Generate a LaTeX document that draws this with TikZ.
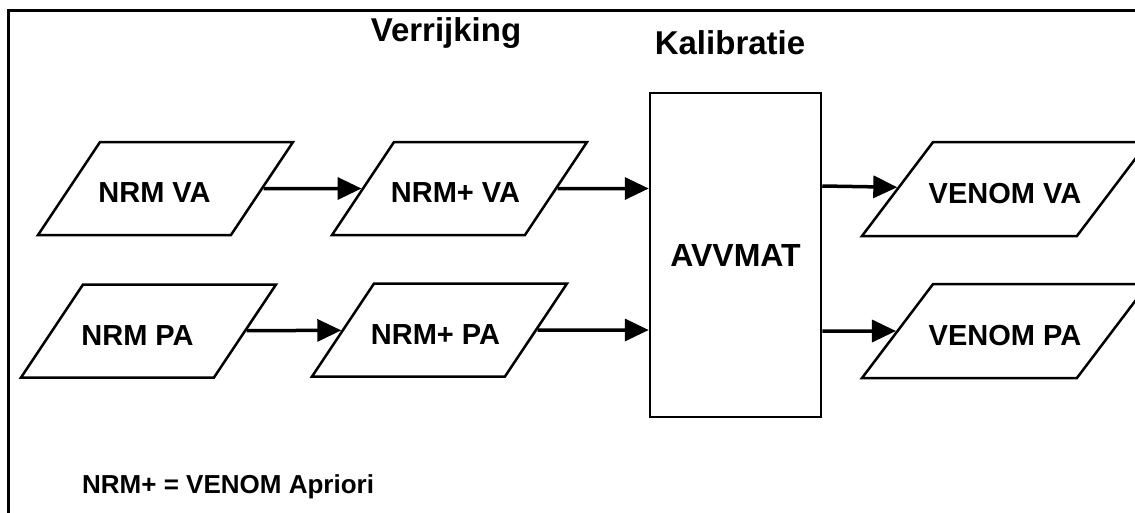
\documentclass[tikz,border=0pt]{standalone}
\usepackage{fontspec}
\setmainfont{Liberation Sans}
\usetikzlibrary{arrows.meta, shapes.geometric}

\begin{document}
\begin{tikzpicture}[
    x=1pt, y=-1pt,
    font=\bfseries,
    data/.style={
      trapezium, trapezium stretches body=true,
      trapezium left angle=56.3, trapezium right angle=123.7,
      draw=black, line width=2.5pt, fill=white,
      minimum width=255pt,
      inner xsep=-8pt, inner ysep=32.5pt,
      text height=28pt, text depth=0pt,
      font=\fontsize{29}{32}\selectfont\bfseries
    },
    result/.style={
      data, trapezium left angle=52.9, trapezium right angle=127.1,
      minimum width=286pt, inner ysep=33pt
    },
    proc/.style={
      rectangle, draw=black, line width=2.5pt, fill=white,
      minimum width=171pt, minimum height=324pt,
      font=\fontsize{32}{36}\selectfont\bfseries
    },
    heading/.style={anchor=base, inner sep=0pt, font=\fontsize{33}{36}\selectfont\bfseries},
    note/.style={anchor=base west, inner sep=0pt, font=\fontsize{26}{30}\selectfont\bfseries},
    arr/.style={-{Triangle[length=24pt, width=22pt]}, line width=3.5pt}
  ]
  % Canvas en kader
  \fill[white] (0,0) rectangle (1135,512);
  \useasboundingbox (0,0) rectangle (1135,512);
  \clip (0,0) rectangle (1135,512);
  \draw[line width=2.5pt] (8.5,10.5) rectangle (1145,525);
  % Kopjes
  \node[heading] (verrijking) at (446,41) {Verrijking};
  \node[heading] (kalibratie) at (730,54) {Kalibratie};
  % Invoer
  \node[data] (nrmva) at (165.5,188.5) {\hspace*{-22pt}NRM VA};
  \node[data] (nrmpa) at (148.5,331) {\hspace*{-22pt}NRM PA};
  % Verrijking
  \node[data] (nrmpva) at (459.5,188.5) {\hspace*{-8pt}NRM+ VA};
  \node[data] (nrmppa) at (439.5,330) {\hspace*{-8pt}NRM+ PA};
  % Kalibratie
  \node[proc] (avvmat) at (735.5,255) {AVVMAT};
  % Uitvoer
  \node[result] (venomva) at (1005,189) {VENOM VA};
  \node[result] (venompa) at (1005,331) {VENOM PA};
  % Legenda
  \node[note] (legend) at (82,493) {NRM+ = VENOM Apriori};
  % Verbindingen
  \draw[arr] (nrmva) -- (nrmpva);
  \draw[arr] (nrmpa) -- (nrmppa);
  \draw[arr] (nrmpva) -- (nrmpva -| avvmat.west);
  \draw[arr] (nrmppa) -- (nrmppa -| avvmat.west);
  \draw[arr] ([yshift=3pt]venomva -| avvmat.east) -- (venomva);
  \draw[arr] (venompa -| avvmat.east) -- (venompa);
\end{tikzpicture}
\end{document}
